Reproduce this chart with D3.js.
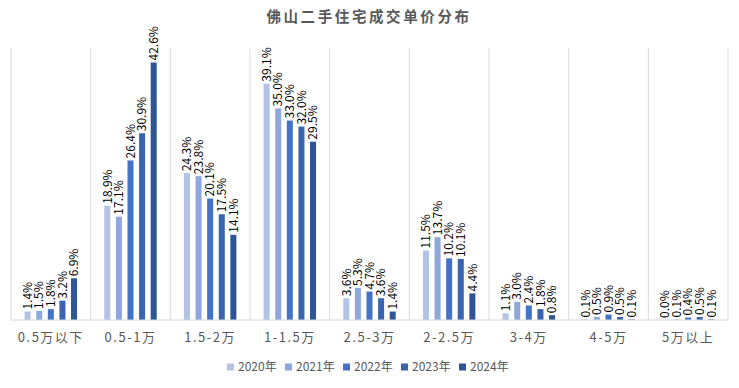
<!DOCTYPE html>
<html>
<head>
<meta charset="utf-8">
<script src="https://cdn.jsdelivr.net/npm/d3@7"></script>
<style>
  body { margin: 0; background: #fff; }
  svg { font-family: "Noto Sans CJK SC", "Noto Sans", sans-serif; }
</style>
</head>
<body>
<svg id="chart" width="739" height="388"></svg>
<script>
// Data
var categories = ['0.5万以下', '0.5-1万', '1.5-2万', '1-1.5万', '2.5-3万', '2-2.5万', '3-4万', '4-5万', '5万以上'];
var years = ['2020年', '2021年', '2022年', '2023年', '2024年'];
var s2020 = [1.4, 18.9, 24.3, 39.1, 3.6, 11.5, 1.1, 0.1, 0.0];
var s2021 = [1.5, 17.1, 23.8, 35.0, 5.3, 13.7, 3.0, 0.5, 0.1];
var s2022 = [1.8, 26.4, 20.1, 33.0, 4.7, 10.2, 2.4, 0.9, 0.4];
var s2023 = [3.2, 30.9, 17.5, 32.0, 3.6, 10.1, 1.8, 0.5, 0.5];
var s2024 = [6.9, 42.6, 14.1, 29.5, 1.4, 4.4, 0.8, 0.1, 0.1];
var colors = ['#b4c2e5', '#8fa8db', '#4472c4', '#3b64ae', '#2f5597'];

var series = [s2020, s2021, s2022, s2023, s2024];

var svg = d3.select('#chart');
var margin = {left: 11, right: 11, top: 48, bottom: 68};
var width = 739 - margin.left - margin.right;
var height = 388 - margin.top - margin.bottom;

var g = svg.append('g').attr('transform', 'translate(' + margin.left + ',' + margin.top + ')');

// Scales
var x0 = d3.scaleBand().domain(categories).range([0, width]).padding(0);
var groupW = 58;
var x1 = d3.scaleBand().domain(years)
  .range([(x0.bandwidth() - groupW) / 2, (x0.bandwidth() + groupW) / 2])
  .paddingInner(0.48).paddingOuter(0.24);
var y = d3.scaleLinear().domain([0, 45]).range([height, 0]);

// Title
svg.append('text')
  .attr('x', 369).attr('y', 22)
  .attr('text-anchor', 'middle')
  .style('font-size', '14.5px')
  .style('font-weight', 'bold')
  .style('letter-spacing', '2.6px')
  .style('fill', '#595959')
  .text('佛山二手住宅成交单价分布');

// Vertical separators between categories
var bounds = categories.map(function(c) { return x0(c); }).concat([width]);
g.selectAll('line.sep')
  .data(bounds)
  .enter().append('line')
  .attr('class', 'sep')
  .attr('x1', function(d) { return d; })
  .attr('x2', function(d) { return d; })
  .attr('y1', 0).attr('y2', height)
  .attr('stroke', '#d9d9d9').attr('stroke-width', 1);

// Bars
var rows = [];
categories.forEach(function(c, i) {
  years.forEach(function(yr, j) {
    rows.push({cat: c, year: yr, value: series[j][i], color: colors[j]});
  });
});

var bars = g.selectAll('g.bar')
  .data(rows)
  .enter().append('g')
  .attr('class', 'bar')
  .attr('transform', function(d) { return 'translate(' + (x0(d.cat) + x1(d.year)) + ',0)'; });

bars.append('rect')
  .attr('x', 0)
  .attr('y', function(d) { return y(d.value); })
  .attr('width', x1.bandwidth())
  .attr('height', function(d) { return height - y(d.value); })
  .attr('fill', function(d) { return d.color; });

// Value labels, rotated
bars.append('text')
  .attr('transform', function(d) {
    return 'translate(' + (x1.bandwidth() / 2) + ',' + (y(d.value) - 2) + ') rotate(-90)';
  })
  .attr('dy', '0.35em')
  .attr('text-anchor', 'start')
  .style('font-size', '12px')
  .style('fill', '#000')
  .text(function(d) { return d.value.toFixed(1) + '%'; });

// X axis baseline
g.append('line')
  .attr('x1', 0).attr('x2', width)
  .attr('y1', height).attr('y2', height)
  .attr('stroke', '#d9d9d9').attr('stroke-width', 1);

// Category labels
g.selectAll('text.cat')
  .data(categories)
  .enter().append('text')
  .attr('class', 'cat')
  .attr('x', function(d) { return x0(d) + x0.bandwidth() / 2; })
  .attr('y', height + 22)
  .attr('text-anchor', 'middle')
  .style('font-size', '13px')
  .style('letter-spacing', '1.5px')
  .style('fill', '#595959')
  .text(function(d) { return d; });

// Legend
var legend = svg.append('g').attr('transform', 'translate(227,367)');
var item = legend.selectAll('g')
  .data(years)
  .enter().append('g')
  .attr('transform', function(d, i) { return 'translate(' + (i * 58) + ',0)'; });
item.append('rect')
  .attr('x', 0).attr('y', -3.5)
  .attr('width', 7).attr('height', 7)
  .attr('fill', function(d, i) { return colors[i]; });
item.append('text')
  .attr('x', 11).attr('dy', '0.35em')
  .style('font-size', '12px')
  .style('fill', '#595959')
  .text(function(d) { return d; });
</script>
</body>
</html>
